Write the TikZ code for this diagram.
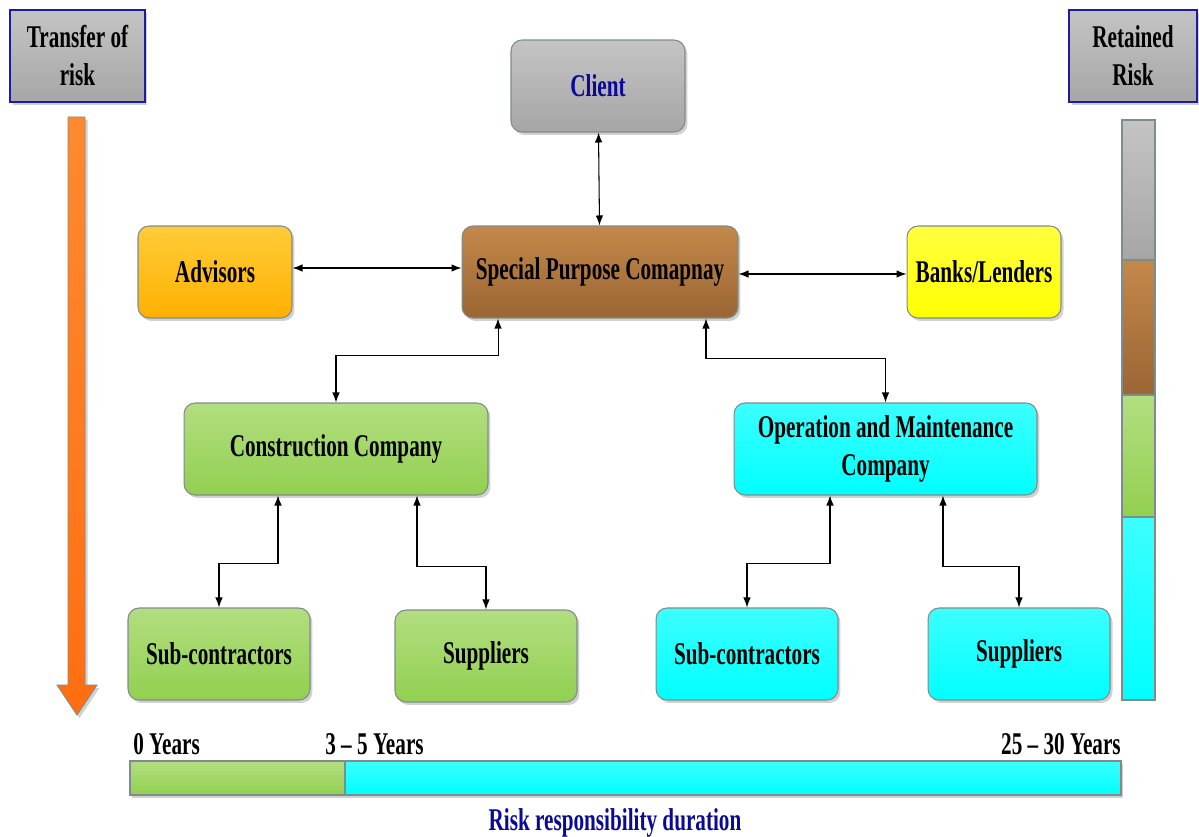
\documentclass[tikz,border=0pt]{standalone}
\usepackage{fontspec}
\setmainfont{Liberation Serif}[FakeStretch=0.67]
\usetikzlibrary{arrows.meta,shadows}

\definecolor{edgegray}{HTML}{7F8C8C}
\definecolor{hdrblue}{HTML}{1C1C9C}
\definecolor{txtblue}{HTML}{0A0A96}
\definecolor{grayA}{HTML}{C4C4C4}\definecolor{grayB}{HTML}{A6A6A6}
\definecolor{brownA}{HTML}{C4884A}\definecolor{brownB}{HTML}{9A6634}
\definecolor{orangeA}{HTML}{FFCC38}\definecolor{orangeB}{HTML}{FFB000}
\definecolor{yellowA}{HTML}{FFFF40}\definecolor{yellowB}{HTML}{FFFF00}
\definecolor{greenA}{HTML}{B2DE80}\definecolor{greenB}{HTML}{92D050}
\definecolor{cyanA}{HTML}{3CFFFF}\definecolor{cyanB}{HTML}{00FFFF}
\definecolor{arrowA}{HTML}{FF8A2E}\definecolor{arrowB}{HTML}{FF6E10}

\tikzset{
  box/.style={draw=edgegray, line width=0.6pt, rounded corners=0.22cm,
    minimum height=1.84cm, align=center, inner sep=2pt,
    font=\bfseries\fontsize{18}{21.6}\selectfont,
    drop shadow={shadow xshift=0.05cm, shadow yshift=-0.06cm, opacity=0.3, fill=black!60}},
  graybox/.style={box, top color=grayA, bottom color=grayB},
  brownbox/.style={box, top color=brownA, bottom color=brownB},
  orangebox/.style={box, top color=orangeA, bottom color=orangeB},
  yellowbox/.style={box, top color=yellowA, bottom color=yellowB},
  greenbox/.style={box, top color=greenA, bottom color=greenB},
  cyanbox/.style={box, top color=cyanA, bottom color=cyanB},
  header/.style={box, rounded corners=0pt, draw=hdrblue, line width=1.4pt,
    top color=grayA, bottom color=grayB},
  label/.style={font=\bfseries\fontsize{18}{21.6}\selectfont, inner sep=0pt},
  link/.style={{Latex[length=0.2cm,width=0.15cm]}-{Latex[length=0.2cm,width=0.15cm]}, line width=0.6pt},
  seg/.style={draw=edgegray, line width=0.6pt},
}

\begin{document}
\begin{tikzpicture}[x=0.02cm, y=-0.02cm]
\useasboundingbox (0,0) rectangle (1199,837);

% side headers
\node[header, minimum width=2.7cm] (transfer) at (77.5,56) {Transfer of\\risk};
\node[header, minimum width=2.56cm] (retained) at (1133,56) {Retained\\Risk};

% transfer arrow
\draw[edgegray, line width=0.5pt, top color=arrowA, bottom color=arrowB,
      drop shadow={shadow xshift=0.05cm, shadow yshift=-0.06cm, opacity=0.3, fill=black!60}]
  (68,117) -- (85,117) -- (85,685) -- (97,685) -- (77,715) -- (57,685) -- (68,685) -- cycle;

% retained risk bar
\draw[seg, top color=grayA, bottom color=grayB] (1122,120) rectangle (1155,260);
\draw[seg, top color=brownA, bottom color=brownB] (1122,260) rectangle (1155,395);
\draw[seg, top color=greenA, bottom color=greenB] (1122,395) rectangle (1155,517);
\draw[seg, top color=cyanA, bottom color=cyanB] (1122,517) rectangle (1155,700);

% parties
\node[graybox, minimum width=3.48cm, text=txtblue] (client) at (598,86) {Client};
\node[brownbox, minimum width=5.52cm] (spc) at (600,272) {Special Purpose Comapnay};
\node[orangebox, minimum width=3.08cm] (advisors) at (215,272) {Advisors};
\node[yellowbox, minimum width=3.08cm] (banks) at (984,272) {Banks/Lenders};
\node[greenbox, minimum width=6.08cm] (construction) at (336,449) {Construction Company};
\node[cyanbox, minimum width=6.06cm] (operation) at (885.5,449) {Operation and Maintenance\\Company};
\node[greenbox, minimum width=3.64cm] (subcl) at (219,654) {Sub-contractors};
\node[greenbox, minimum width=3.64cm] (suppl) at (486,656) {Suppliers};
\node[cyanbox, minimum width=3.64cm] (subcr) at (747,654) {Sub-contractors};
\node[cyanbox, minimum width=3.64cm] (suppr) at (1019,654) {Suppliers};

% links
\draw[link] (client) -- (spc);
\draw[link] ([yshift=0.08cm]advisors.east) -- ([yshift=0.08cm]spc.west);
\draw[link] ([yshift=-0.04cm]spc.east) -- ([yshift=-0.04cm]banks.west);
\draw[link] ([xshift=-2.04cm]spc.south) -- ++(0,37) -| (construction.north);
\draw[link] ([xshift=2.12cm]spc.south) -- ++(0,40) -| (operation.north);
\draw[link] ([xshift=-1.16cm]construction.south) -- ++(0,68) -| (subcl.north);
\draw[link] ([xshift=1.62cm]construction.south) -- ++(0,71) -| (suppl.north);
\draw[link] ([xshift=-1.11cm]operation.south) -- ++(0,68) -| (subcr.north);
\draw[link] ([xshift=1.15cm]operation.south) -- ++(0,71) -| (suppr.north);

% duration bar
\draw[seg, top color=greenA, bottom color=greenB,
      drop shadow={shadow xshift=0.04cm, shadow yshift=-0.05cm, opacity=0.3, fill=black!60}]
  (130,761) rectangle (345,795);
\draw[seg, top color=cyanA, bottom color=cyanB,
      drop shadow={shadow xshift=0.04cm, shadow yshift=-0.05cm, opacity=0.3, fill=black!60}]
  (345,761) rectangle (1121,795);
\node[label, anchor=base west] (y0) at (133,754) {0 Years};
\node[label, anchor=base west] (y3) at (325,754) {3 -- 5 Years};
\node[label, anchor=base east] (y25) at (1121,754) {25 -- 30 Years};
\node[label, anchor=base, text=txtblue] (duration) at (615,830) {Risk responsibility duration};
\end{tikzpicture}
\end{document}
